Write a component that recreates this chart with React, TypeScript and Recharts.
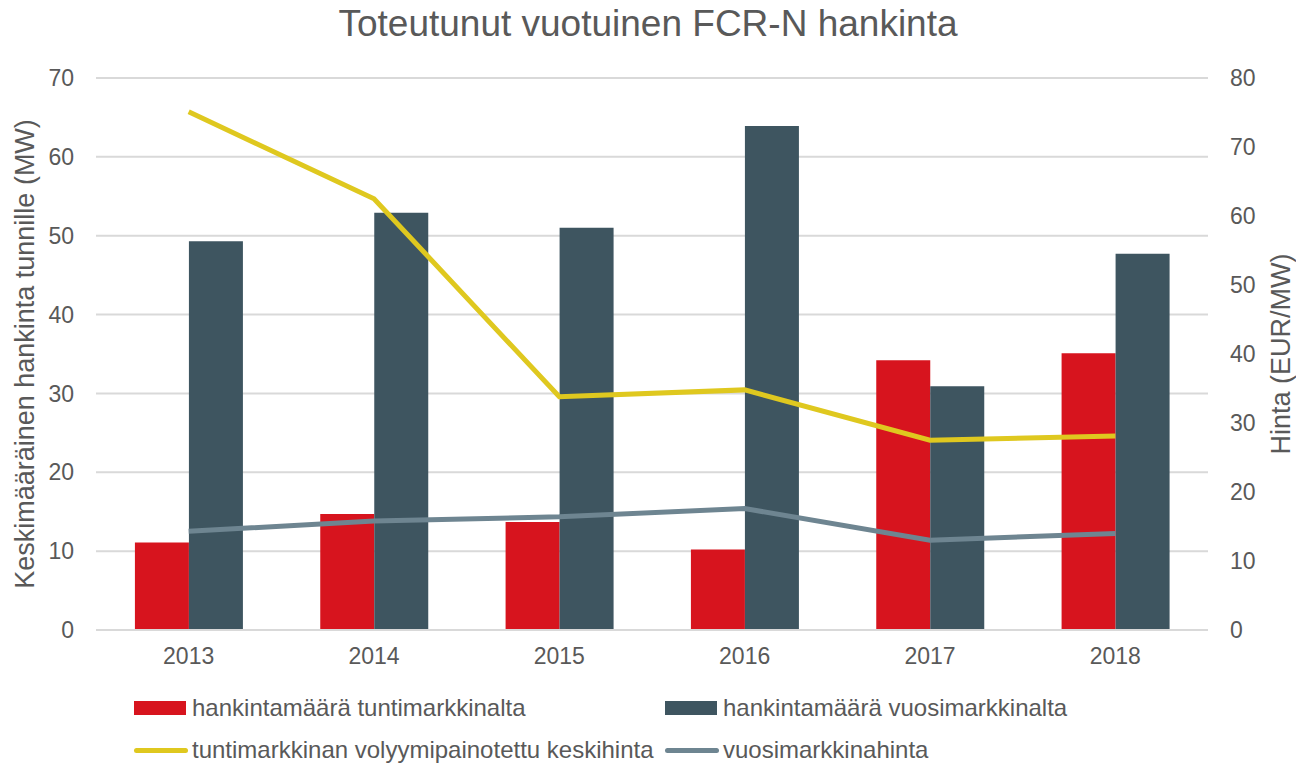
import React from "react";
import {
  Bar,
  CartesianGrid,
  ComposedChart,
  Legend,
  Line,
  XAxis,
  YAxis,
} from "recharts";

const years = ["2013", "2014", "2015", "2016", "2017", "2018"];
const tuntiMaara = [11.1, 14.7, 13.7, 10.2, 34.2, 35.1];
const vuosiMaara = [49.3, 52.9, 51.0, 63.9, 30.9, 47.7];
const tuntiHinta = [75.1, 62.5, 33.8, 34.8, 27.5, 28.1];
const vuosiHinta = [14.3, 15.8, 16.4, 17.6, 13.0, 14.0];

const leftTicks = [0, 10, 20, 30, 40, 50, 60, 70];
const rightTicks = [0, 10, 20, 30, 40, 50, 60, 70, 80];

const TEXT = "#595959";
const FONT = "'Liberation Sans', Arial, sans-serif";

const series = [
  { key: "tunti", name: "hankintamäärä tuntimarkkinalta", color: "#D7141E", type: "bar" },
  { key: "vuosi", name: "hankintamäärä vuosimarkkinalta", color: "#3E5560", type: "bar" },
  { key: "tuntiHinta", name: "tuntimarkkinan volyymipainotettu keskihinta", color: "#DFC81F", type: "line" },
  { key: "vuosiHinta", name: "vuosimarkkinahinta", color: "#6E8591", type: "line" },
];

const data = years.map((y, i) => ({
  year: y,
  tunti: tuntiMaara[i],
  vuosi: vuosiMaara[i],
  tuntiHinta: tuntiHinta[i],
  vuosiHinta: vuosiHinta[i],
}));

function LegendBox() {
  const cols = [134, 665];
  return (
    <div style={{ position: "relative", width: 1296, height: 84, fontFamily: FONT, color: TEXT }}>
      {series.map((s, i) => (
        <div
          key={s.key}
          style={{
            position: "absolute",
            left: cols[i % 2],
            top: Math.floor(i / 2) * 42,
            height: 42,
            display: "flex",
            alignItems: "center",
            fontSize: 24,
            whiteSpace: "nowrap",
          }}
        >
          {s.type === "bar" ? (
            <span style={{ display: "inline-block", width: 52, height: 14, background: s.color, marginRight: 6 }} />
          ) : (
            <span style={{ display: "inline-block", width: 54, height: 5, borderRadius: 3, background: s.color, marginRight: 4 }} />
          )}
          {s.name}
        </div>
      ))}
    </div>
  );
}

export default function App() {
  const tick = { fill: TEXT, fontSize: 23, fontFamily: FONT };
  const axisLabel = { textAnchor: "middle", fill: TEXT, fontSize: 27, fontFamily: FONT };
  return (
    <div style={{ position: "absolute", left: 0, top: 0, width: 1296, height: 766, background: "#fff" }}>
      <div
        style={{
          position: "absolute",
          top: 3,
          left: 0,
          width: 1296,
          textAlign: "center",
          fontFamily: FONT,
          fontSize: 37,
          color: TEXT,
          zIndex: 1,
        }}
      >
        Toteutunut vuotuinen FCR-N hankinta
      </div>
      <ComposedChart
        width={1296}
        height={766}
        data={data}
        margin={{ top: 78, right: 0, left: 0, bottom: 96 }}
        barCategoryGap="21%"
        barGap={0}
      >
        <CartesianGrid vertical={false} stroke="#d9d9d9" strokeWidth={2} yAxisId="left" />
        <XAxis
          dataKey="year"
          tick={tick}
          tickLine={false}
          axisLine={{ stroke: "#d9d9d9", strokeWidth: 2 }}
          tickMargin={12}
          height={40}
        />
        <YAxis
          yAxisId="left"
          orientation="left"
          domain={[0, 70]}
          ticks={leftTicks}
          width={96}
          tick={tick}
          tickLine={false}
          axisLine={false}
          tickMargin={16}
          label={{
            value: "Keskimääräinen hankinta tunnille (MW)",
            angle: -90,
            position: "insideLeft",
            offset: 24,
            style: axisLabel,
          }}
        />
        <YAxis
          yAxisId="right"
          orientation="right"
          domain={[0, 80]}
          ticks={rightTicks}
          width={88}
          tick={tick}
          tickLine={false}
          axisLine={false}
          tickMargin={16}
          label={{
            value: "Hinta (EUR/MW)",
            angle: -90,
            position: "insideRight",
            offset: 16,
            style: axisLabel,
          }}
        />
        <Bar yAxisId="left" dataKey="tunti" name={series[0].name} fill={series[0].color} isAnimationActive={false} />
        <Bar yAxisId="left" dataKey="vuosi" name={series[1].name} fill={series[1].color} isAnimationActive={false} />
        <Line
          yAxisId="right"
          dataKey="tuntiHinta"
          name={series[2].name}
          stroke={series[2].color}
          strokeWidth={5}
          dot={false}
          type="linear"
          isAnimationActive={false}
        />
        <Line
          yAxisId="right"
          dataKey="vuosiHinta"
          name={series[3].name}
          stroke={series[3].color}
          strokeWidth={5}
          dot={false}
          type="linear"
          isAnimationActive={false}
        />
        <Legend
          layout="horizontal"
          verticalAlign="middle"
          align="center"
          wrapperStyle={{ top: 687, left: 0, width: 1296 }}
          content={() => <LegendBox />}
        />
      </ComposedChart>
    </div>
  );
}
